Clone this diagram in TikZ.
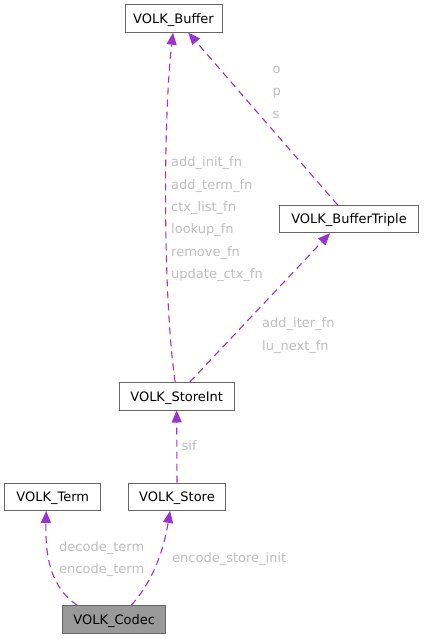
\documentclass[tikz,border=0pt]{standalone}
\usepackage{fontspec}
\setmainfont{DejaVu Sans}
\usetikzlibrary{arrows.meta,calc}
\definecolor{edgec}{HTML}{9A32CD}
\definecolor{labc}{HTML}{BEBEBE}
\definecolor{boxc}{HTML}{666666}
\definecolor{codecfill}{HTML}{999999}
\begin{document}
\begin{tikzpicture}[x=1pt,y=-1pt,
  box/.style={draw=boxc, line width=0.9pt, fill=white, inner sep=0pt,
    minimum height=27.5pt, text height=9.4pt, text depth=0pt,
    font=\fontsize{13}{15}\selectfont},
  rel/.style={draw=edgec, line width=1.1pt, dash pattern=on 7pt off 5pt,
    -{Triangle[length=12pt,width=10pt]}},
  lab/.style={text=labc, anchor=base west, inner sep=0pt,
    font=\fontsize{13}{15}\selectfont}]
\useasboundingbox (0,0) rectangle (424,639);

\node[box, minimum width=97pt] (buf) at (173.5,18.5) {VOLK\_Buffer};
\node[box, minimum width=139.5pt] (trip) at (349,219) {VOLK\_BufferTriple};
\node[box, minimum width=114.7pt] (sint) at (176.7,396.3) {VOLK\_StoreInt};
\node[box, minimum width=96pt] (term) at (52.7,496.7) {VOLK\_Term};
\node[box, minimum width=97.7pt] (store) at (177,496.7) {VOLK\_Store};
\node[box, minimum width=103pt, fill=codecfill] (codec) at (114.2,619.5) {VOLK\_Codec};

% anchor points
\coordinate (sintA) at ($(sint.north)+(-1.5,0)$);
\coordinate (sintB) at ($(sint.north)+(13,0)$);
\coordinate (bufA) at ($(buf.south)+(-0.5,0)$);
\coordinate (bufB) at ($(buf.south)+(14.8,0)$);
\coordinate (tripA) at ($(trip.north)+(-11.5,0)$);
\coordinate (tripB) at ($(trip.south)+(-19,0)$);
\coordinate (codecA) at ($(codec.north)+(-37,0)$);
\coordinate (codecB) at ($(codec.north)+(17,0)$);
\coordinate (termA) at ($(term.south)+(-6.5,0)$);
\coordinate (storeA) at ($(store.south)+(-7,0)$);

% edges
\draw[rel] (sintA) .. controls (163,300) and (163,120) .. (bufA);
\draw[rel] (tripA) -- (bufB);
\draw[rel] (sintB) -- (tripB);
\draw[rel] (store.north) -- (sint.south);
\draw[rel] (codecA) .. controls (52,588) and (45,560) .. (termA);
\draw[rel] (codecB) .. controls (150,585) and (163,555) .. (storeA);

% labels
\node[lab] (l1) at (171,167) {add\_init\_fn};
\node[lab] (l2) at (171,189.3) {add\_term\_fn};
\node[lab] (l3) at (171,211.6) {ctx\_list\_fn};
\node[lab] (l4) at (171,233.9) {lookup\_fn};
\node[lab] (l5) at (171,256.2) {remove\_fn};
\node[lab] (l6) at (171,278.5) {update\_ctx\_fn};
\node[lab] (lo) at (272.5,73.5) {o};
\node[lab] (lp) at (272.5,95.9) {p};
\node[lab] (ls) at (272.5,118.3) {s};
\node[lab] (li1) at (262,327.7) {add\_iter\_fn};
\node[lab] (li2) at (262,350) {lu\_next\_fn};
\node[lab] (lsif) at (181.5,450) {sif};
\node[lab] (ld) at (59,551.7) {decode\_term};
\node[lab] (le) at (59,573.5) {encode\_term};
\node[lab] (les) at (172,562.7) {encode\_store\_init};
\end{tikzpicture}
\end{document}
